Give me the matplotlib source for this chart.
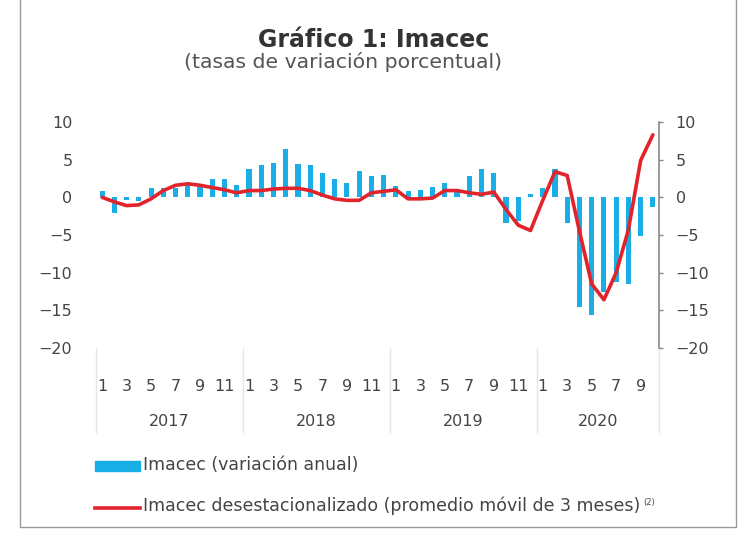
import matplotlib
matplotlib.use("Agg")
from matplotlib import pyplot as plt
from matplotlib.lines import Line2D
from matplotlib.patches import Rectangle

# monthly data, Jan 2017 .. Oct 2020
years = ['2017', '2018', '2019', '2020']
months_per_year = [12, 12, 12, 10]
imacec_anual = [0.8, -2.1, -0.4, -0.5, 1.2, 1.3, 1.3, 1.6, 1.4, 2.5, 2.5, 1.6,
                3.8, 4.3, 4.5, 6.4, 4.4, 4.3, 3.2, 2.5, 1.9, 3.5, 2.8, 2.9,
                1.5, 0.8, 1.0, 1.4, 1.9, 0.7, 2.8, 3.7, 3.2, -3.4, -3.1, 0.5,
                1.2, 3.7, -3.4, -14.5, -15.6, -12.5, -11.3, -11.5, -5.1, -1.3]
imacec_desest = [0.0, -0.6, -1.1, -1.0, -0.2, 0.9, 1.6, 1.8, 1.6, 1.3, 1.0, 0.6,
                 0.9, 0.9, 1.1, 1.2, 1.2, 0.9, 0.3, -0.2, -0.4, -0.4, 0.6, 0.8,
                 1.0, -0.2, -0.2, -0.1, 0.9, 0.9, 0.6, 0.4, 0.7, -1.6, -3.7, -4.4,
                 -0.4, 3.4, 2.9, -4.5, -11.5, -13.6, -10.0, -4.3, 4.9, 8.3]
y_ticks = [10, 5, 0, -5, -10, -15, -20]
y_labels = [str(v).replace('-', '\u2212') for v in y_ticks]

blue = '#19aee6'
red = '#e3232c'
txt = '#444444'
fs = 11.5

W, H = 745, 537
fig = plt.figure(figsize=(W / 100, H / 100), dpi=100)


def fx(px):
    return px / W


def fy(py):
    return 1 - py / H


ax = fig.add_axes([fx(96), fy(348), fx(659) - fx(96), fy(122) - fy(348)])

x = list(range(len(imacec_anual)))
ax.bar(x, imacec_anual, width=0.42, color=blue, zorder=2)
ax.plot(x, imacec_desest, color=red, linewidth=2.6, zorder=3,
        solid_joinstyle='round', solid_capstyle='round')

ax.set_xlim(-0.5, len(x) - 0.5)
ax.set_ylim(-20, 10)
ax.set_yticks(y_ticks)
ax.set_yticklabels(y_labels)
for side in ['top', 'left', 'bottom', 'right']:
    ax.spines[side].set_visible(False)

# right axis
ax2 = ax.twinx()
ax2.set_ylim(-20, 10)
ax2.set_yticks(y_ticks)
ax2.set_yticklabels(y_labels)
ax2.tick_params(axis='y', direction='out', length=3, width=1, color='#888888',
                labelsize=fs, labelcolor=txt, pad=9)
for side in ['top', 'left', 'bottom']:
    ax2.spines[side].set_visible(False)
ax2.spines['right'].set_color('#888888')
ax2.spines['right'].set_linewidth(1.2)
ax.tick_params(axis='y', left=False, right=False, labelleft=True,
               labelsize=fs, labelcolor=txt, pad=13.5)

# month tick labels and year groups
month_pos = []
month_lab = []
start = 0
trans = ax.get_xaxis_transform()
for yr, n in zip(years, months_per_year):
    for m in range(1, n + 1, 2):
        month_pos.append(start + m - 1)
        month_lab.append(str(m))
    ax.text(start + (n - 1) / 2, -0.325, yr, transform=trans, ha='center',
            va='center', fontsize=fs, color=txt)
    ax.plot([start - 0.5, start - 0.5], [0, -0.37], transform=trans,
            color='#dde8ef', linewidth=1, clip_on=False)
    start += n
ax.plot([start - 0.5, start - 0.5], [0, -0.37], transform=trans,
        color='#dde8ef', linewidth=1, clip_on=False)
ax.set_xticks(month_pos)
ax.set_xticklabels(month_lab)
ax.tick_params(axis='x', length=0, labelsize=fs, labelcolor=txt, pad=22)

# titles
fig.text(fx(374), fy(40), 'Gráfico 1: Imacec', ha='center', va='center',
         fontsize=17, fontweight='bold', color='#333333')
fig.text(fx(343), fy(62), '(tasas de variación porcentual)', ha='center',
         va='center', fontsize=14.7, color='#555555')

# legend
fig.patches.append(Rectangle((fx(95), fy(471)), fx(140) - fx(95), fy(461) - fy(471),
                             transform=fig.transFigure, color=blue))
fig.text(fx(143), fy(465), 'Imacec (variación anual)', ha='left', va='center',
         fontsize=12.5, color=txt)
fig.lines.append(Line2D([fx(95), fx(140)], [fy(508), fy(508)],
                        transform=fig.transFigure, color=red, linewidth=2.6))
fig.text(fx(143), fy(506), 'Imacec desestacionalizado (promedio móvil de 3 meses)',
         ha='left', va='center', fontsize=12.5, color=txt)
fig.text(fx(643), fy(502), '(2)', ha='left', va='center', fontsize=6, color=txt)

# frame
fig.lines.append(Line2D([fx(20), fx(20), fx(736), fx(736)],
                        [fy(0), fy(527), fy(527), fy(0)],
                        transform=fig.transFigure, color='#9a9a9a', linewidth=1))

fig.savefig('out.png', dpi=100)
